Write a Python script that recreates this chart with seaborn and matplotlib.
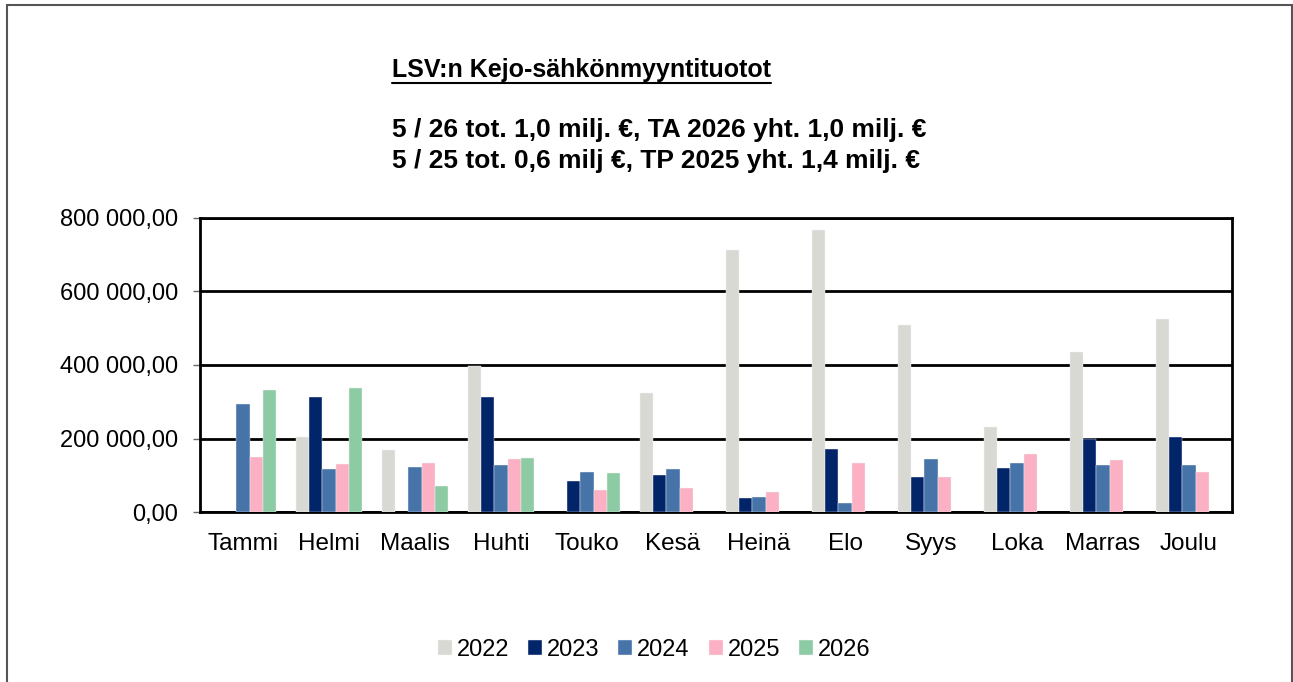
import numpy as np
import pandas as pd
import matplotlib
matplotlib.use("Agg")
import matplotlib.pyplot as plt
import seaborn as sns
from matplotlib.patches import Rectangle
from matplotlib.lines import Line2D

months = ["Tammi", "Helmi", "Maalis", "Huhti", "Touko", "Kesä",
          "Heinä", "Elo", "Syys", "Loka", "Marras", "Joulu"]
years = ["2022", "2023", "2024", "2025", "2026"]

v2022 = [np.nan, 204000, 168000, 398000, np.nan, 324000, 714000, 767000, 508000, 230000, 435000, 524000]
v2023 = [np.nan, 312000, np.nan, 312000, 85000, 102000, 39000, 171000, 95000, 121000, 200000, 204000]
v2024 = [294000, 117000, 122000, 129000, 108000, 116000, 42000, 24000, 143000, 133000, 128000, 129000]
v2025 = [149000, 130000, 133000, 145000, 59000, 66000, 54000, 133000, 96000, 157000, 141000, 110000]
v2026 = [333000, 337000, 70000, 146000, 107000] + [np.nan] * 7

colors = ["#D9D9D4", "#022468", "#4674A8", "#FBB0C3", "#8DCBA4"]

df = pd.DataFrame({"kk": months * 5,
                   "vuosi": np.repeat(years, 12),
                   "euro": v2022 + v2023 + v2024 + v2025 + v2026})

sns.set_style("white")
plt.rcParams["font.family"] = ["Liberation Sans", "DejaVu Sans"]
plt.rcParams["text.color"] = "black"
plt.rcParams["xtick.color"] = "black"
plt.rcParams["ytick.color"] = "black"

fig = plt.figure(figsize=(12.93, 6.82), dpi=100)
ax = fig.add_axes([200 / 1293, 1 - 512 / 682, 1032 / 1293, 294 / 682])

sns.barplot(data=df, x="kk", y="euro", hue="vuosi", palette=colors,
            width=0.77, saturation=1, errorbar=None, ax=ax,
            edgecolor="#F4F4F4", linewidth=0.3, zorder=3)

ax.set_xlim(-0.5, 11.5)
ax.set_ylim(0, 800000)
ax.set_yticks([0, 200000, 400000, 600000, 800000])
ax.set_yticklabels(["0,00", "200 000,00", "400 000,00", "600 000,00", "800 000,00"], fontsize=17)
ax.yaxis.grid(True, color="black", linewidth=2, zorder=0)
ax.set_axisbelow(True)
ax.set_xlabel("")
ax.set_ylabel("")
ax.tick_params(axis="x", which="major", length=0, labelsize=17.5, pad=15)
ax.set_xticks(np.arange(-0.5, 12, 1), minor=True)
ax.tick_params(axis="x", which="minor", length=6, color="#666666", width=1, direction="out")
ax.tick_params(axis="y", length=5, color="#666666", width=1, direction="out", left=True, pad=11)
for s in ax.spines.values():
    s.set_color("black")
    s.set_linewidth(2)

ax.legend(loc="center", bbox_to_anchor=(654 / 1293, 1 - 650 / 682),
          bbox_transform=fig.transFigure, ncol=5, frameon=False, fontsize=17,
          handlelength=0.6, handleheight=0.6, handletextpad=0.2, columnspacing=0.8)

t = fig.text(392 / 1293, 1 - 70 / 682, "LSV:n Kejo-sähkönmyyntituotot",
             fontsize=18, fontweight="bold", ha="left", va="center")
fig.text(392 / 1293, 1 - 130 / 682, "5 / 26 tot. 1,0 milj. €, TA 2026 yht. 1,0 milj. €",
         fontsize=19, fontweight="bold", ha="left", va="center")
fig.text(392 / 1293, 1 - 161 / 682, "5 / 25 tot. 0,6 milj €, TP 2025 yht. 1,4 milj. €",
         fontsize=19, fontweight="bold", ha="left", va="center")

# underline for the title
fig.canvas.draw()
bb = t.get_window_extent().transformed(fig.transFigure.inverted())
fig.add_artist(Line2D([bb.x0, bb.x1], [bb.y0 - 0.002, bb.y0 - 0.002],
                      transform=fig.transFigure, color="black", linewidth=1.5))

# outer frame
fig.add_artist(Rectangle((7 / 1293, -0.02), 1285 / 1293, 1.02 - 5 / 682,
                         transform=fig.transFigure, fill=False,
                         edgecolor="#555555", linewidth=1.5))

fig.savefig("out.png", dpi=100)
